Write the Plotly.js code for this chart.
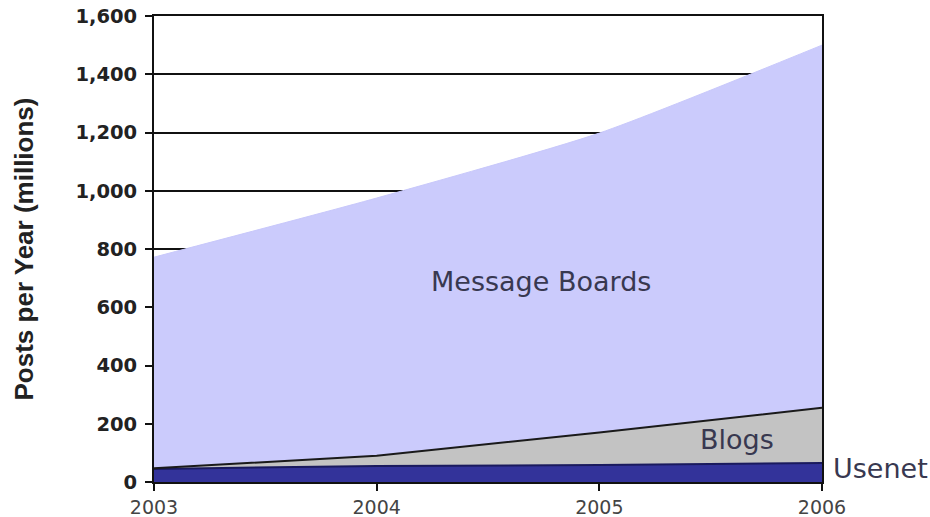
<!DOCTYPE html>
<html>
<head>
<meta charset="utf-8">
<script src="https://cdn.plot.ly/plotly-3.0.1.min.js"></script>
<style>html,body{margin:0;padding:0;background:#fff;}#chart{width:930px;height:517px;}</style>
</head>
<body>
<div id="chart"></div>
<script>
const years = [2003, 2004, 2005, 2006];
const usenet = [45, 55, 58, 65];
const blogs = [2, 35, 112, 190];
const messageBoards = [725, 885, 1028, 1245];
const seriesNames = ["Usenet", "Blogs", "Message Boards"];

const traces = [
  {x: years, y: usenet, name: seriesNames[0], type: 'scatter', mode: 'lines', stackgroup: 'one',
   line: {color: '#1a1a5e', width: 2}, fillcolor: '#33339a'},
  {x: years, y: blogs, name: seriesNames[1], type: 'scatter', mode: 'lines', stackgroup: 'one',
   line: {color: '#1a1a1a', width: 2}, fillcolor: '#c3c3c3'},
  {x: years, y: messageBoards, name: seriesNames[2], type: 'scatter', mode: 'lines', stackgroup: 'one',
   line: {color: '#c8c8fb', width: 1, shape: 'spline', smoothing: 0.6}, fillcolor: '#cbcbfc'}
];

const layout = {
  width: 930, height: 517,
  margin: {l: 154, r: 108, t: 16, b: 35},
  paper_bgcolor: '#fff', plot_bgcolor: '#fff',
  showlegend: false,
  font: {family: 'DejaVu Sans, Verdana, sans-serif', color: '#333'},
  xaxis: {
    range: [2003, 2006], tickvals: years, ticktext: years.map(String),
    showgrid: false, zeroline: false,
    showline: true, linecolor: '#111', linewidth: 2, mirror: true,
    ticks: 'outside', ticklen: 7, tickwidth: 2, tickcolor: '#111',
    tickfont: {size: 19, color: '#444'}, ticklabelstandoff: 0
  },
  yaxis: {
    range: [0, 1600], dtick: 200, tickformat: ',d',
    showgrid: true, gridcolor: '#111', gridwidth: 2, zeroline: false,
    showline: true, linecolor: '#111', linewidth: 2, mirror: true,
    ticks: 'outside', ticklen: 7, tickwidth: 2, tickcolor: '#111',
    ticklabelstandoff: 4,
    tickfont: {size: 19.5, color: '#222', family: 'DejaVu Sans, Verdana, sans-serif', weight: 'bold'},
    title: {text: 'Posts per Year (millions)', font: {size: 26, color: '#222', family: 'Liberation Sans, Arial, sans-serif', weight: 'bold'}, standoff: 34}
  },
  annotations: [
    {x: 2004.74, y: 690, text: 'Message Boards', showarrow: false, font: {size: 27, color: '#383850'}, xref: 'x', yref: 'y'},
    {x: 2005.62, y: 145, text: 'Blogs', showarrow: false, font: {size: 27, color: '#383850'}, xref: 'x', yref: 'y'},
    {x: 1.0, xanchor: 'left', xshift: 9, y: 45, text: 'Usenet', showarrow: false, font: {size: 27, color: '#383850'}, xref: 'paper', yref: 'y'}
  ]
};

Plotly.newPlot('chart', traces, layout, {displayModeBar: false, staticPlot: true});
</script>
</body>
</html>
